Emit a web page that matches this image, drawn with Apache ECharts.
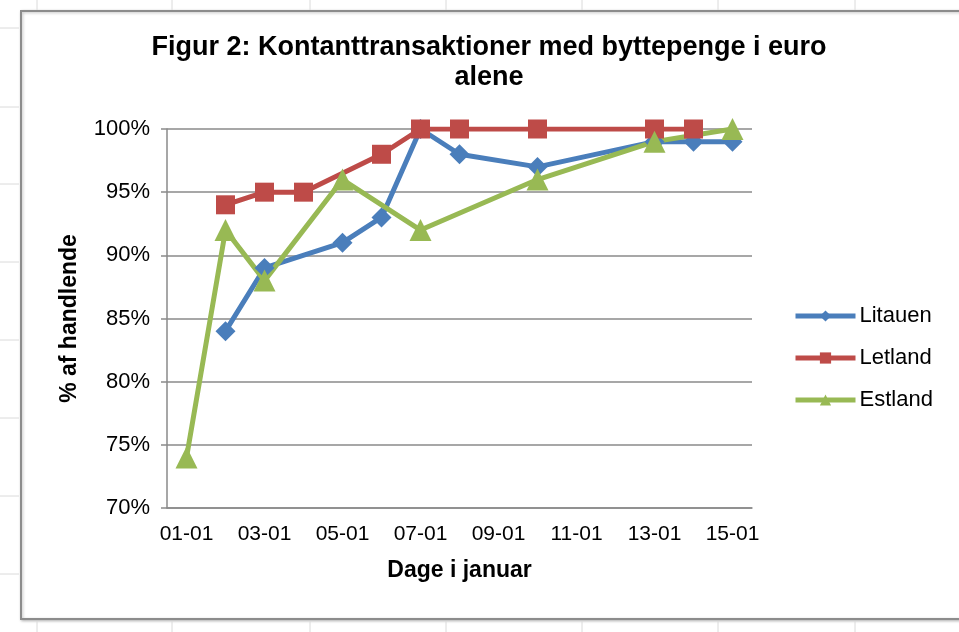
<!DOCTYPE html>
<html>
<head>
    <meta charset="utf-8">
    <title>Figur 2</title>
    <script type="text/javascript" src="https://cdn.jsdelivr.net/npm/echarts@6/dist/echarts.min.js"></script>
    <style>
        html, body { margin: 0; padding: 0; background: #fff; }
    </style>
</head>
<body>
<div id="chart" style="width:959px;height:632px;"></div>

<script type="text/javascript">
    // dage i januar (01-01 .. 15-01)
    var days = ['01-01', '02-01', '03-01', '04-01', '05-01', '06-01', '07-01', '08-01',
                '09-01', '10-01', '11-01', '12-01', '13-01', '14-01', '15-01'];

    // % af handlende, null = ingen måling den dag
    var litauen = [null, 84, 89, null, 91, 93, 100, 98, null, 97, null, null, 99, 99, 99];
    var letland = [null, 94, 95, 95, null, 98, 100, 100, null, 100, null, null, 100, 100, null];
    var estland = [74, 92, 88, null, 96, null, 92, null, null, 96, null, null, 99, null, 100];

    var yTicks = [70, 75, 80, 85, 90, 95, 100];

    var myChart = echarts.init(document.getElementById('chart'));

    var font = 'Liberation Sans, Arial, sans-serif';
    var gridColor = '#8a8a8a';

    // regneark-gitter bag diagrammet
    var cells = [];
    var colX = [37, 172, 310, 446, 582, 718, 855];
    for (var i = 0; i < colX.length; i++) {
        cells.push({ type: 'line', shape: { x1: colX[i], y1: 0, x2: colX[i], y2: 10 }, style: { stroke: '#dadada', lineWidth: 1 } });
        cells.push({ type: 'line', shape: { x1: colX[i], y1: 621, x2: colX[i], y2: 632 }, style: { stroke: '#dadada', lineWidth: 1 } });
    }
    var rowY = [28, 107, 184, 262, 340, 418, 496, 574];
    for (var j = 0; j < rowY.length; j++) {
        cells.push({ type: 'line', shape: { x1: 0, y1: rowY[j], x2: 19, y2: rowY[j] }, style: { stroke: '#dadada', lineWidth: 1 } });
    }
    cells.push({
        type: 'rect', z: -1,
        shape: { x: 21, y: 11, width: 960, height: 608 },
        style: { fill: '#fff', stroke: '#8c8c8c', lineWidth: 2, shadowColor: 'rgba(0,0,0,0.25)', shadowBlur: 3, shadowOffsetX: 1, shadowOffsetY: 1 }
    });

    var option = {
        animation: false,
        backgroundColor: '#fff',
        title: {
            text: 'Figur 2: Kontanttransaktioner med byttepenge i euro\nalene',
            left: 489,
            top: 33,
            textAlign: 'center',
            padding: 0,
            textStyle: { fontFamily: font, fontSize: 27, fontWeight: 'bold', color: '#000', lineHeight: 30 }
        },
        legend: {
            orient: 'vertical',
            left: 793,
            top: 305,
            padding: 0,
            itemWidth: 60,
            itemHeight: 14,
            itemGap: 20,
            data: ['Litauen', 'Letland', 'Estland'],
            lineStyle: { width: 5 },
            textStyle: { fontFamily: font, fontSize: 22, color: '#000', lineHeight: 22, padding: [0, 0, 0, -1] }
        },
        graphic: cells,
        grid: { left: 167, top: 129, right: 207, bottom: 124 },
        xAxis: {
            type: 'category',
            data: days,
            boundaryGap: true,
            name: 'Dage i januar',
            nameLocation: 'middle',
            nameGap: 51,
            nameTextStyle: { fontFamily: font, fontSize: 23, fontWeight: 'bold', color: '#000' },
            axisLine: { lineStyle: { color: gridColor, width: 1.5 } },
            axisTick: { interval: 1, length: 6, lineStyle: { color: gridColor, width: 1.5 } },
            axisLabel: { interval: 1, margin: 16, fontFamily: font, fontSize: 21, color: '#000' }
        },
        yAxis: {
            type: 'value',
            min: 70,
            max: 100,
            interval: 5,
            name: '% af handlende',
            nameLocation: 'middle',
            nameGap: 86,
            nameTextStyle: { fontFamily: font, fontSize: 23, fontWeight: 'bold', color: '#000' },
            axisLine: { show: true, lineStyle: { color: gridColor, width: 1.5 } },
            axisTick: { show: true, length: 6, lineStyle: { color: gridColor, width: 1.5 } },
            axisLabel: {
                margin: 17, fontFamily: font, fontSize: 22, color: '#000',
                formatter: function (v) { return yTicks.indexOf(v) >= 0 ? v + '%' : ''; }
            },
            splitLine: { lineStyle: { color: gridColor, width: 1.5 } }
        },
        series: [
            {
                name: 'Litauen',
                type: 'line',
                data: litauen,
                connectNulls: true,
                symbol: 'diamond',
                symbolSize: 20,
                color: '#4a7ebb',
                lineStyle: { width: 5 }
            },
            {
                name: 'Letland',
                type: 'line',
                data: letland,
                connectNulls: true,
                symbol: 'rect',
                symbolSize: 19,
                color: '#be4b48',
                lineStyle: { width: 5 }
            },
            {
                name: 'Estland',
                type: 'line',
                data: estland,
                connectNulls: true,
                symbol: 'triangle',
                symbolSize: 22,
                color: '#98b954',
                lineStyle: { width: 5 }
            }
        ]
    };
    myChart.setOption(option);
</script>
</body>
</html>
